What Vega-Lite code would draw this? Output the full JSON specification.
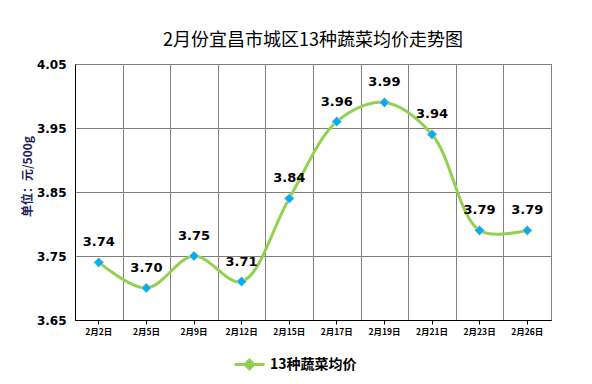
{
  "$schema": "https://vega.github.io/schema/vega-lite/v6.json",
  "width": 476,
  "height": 256,
  "autosize": "none",
  "padding": {"left": 75, "top": 64, "right": 41, "bottom": 64},
  "background": "white",
  "title": {
    "text": "2月份宜昌市城区13种蔬菜均价走势图",
    "font": "Noto Sans CJK SC",
    "fontSize": 18,
    "fontWeight": "normal",
    "color": "#000000",
    "anchor": "middle",
    "offset": 8
  },
  "data": {
    "values": [
      {"date": "2月2日", "price": 3.74, "series": "13种蔬菜均价"},
      {"date": "2月5日", "price": 3.70, "series": "13种蔬菜均价"},
      {"date": "2月9日", "price": 3.75, "series": "13种蔬菜均价"},
      {"date": "2月12日", "price": 3.71, "series": "13种蔬菜均价"},
      {"date": "2月15日", "price": 3.84, "series": "13种蔬菜均价"},
      {"date": "2月17日", "price": 3.96, "series": "13种蔬菜均价"},
      {"date": "2月19日", "price": 3.99, "series": "13种蔬菜均价"},
      {"date": "2月21日", "price": 3.94, "series": "13种蔬菜均价"},
      {"date": "2月23日", "price": 3.79, "series": "13种蔬菜均价"},
      {"date": "2月26日", "price": 3.79, "series": "13种蔬菜均价"}
    ]
  },
  "resolve": {"axis": {"x": "independent", "y": "independent"}},
  "layer": [
    {
      "mark": {"type": "line", "interpolate": "catmull-rom", "strokeWidth": 3},
      "encoding": {
        "x": {
          "field": "date", "type": "ordinal", "sort": null, "bandPosition": 0.5,
          "scale": {"type": "band", "paddingInner": 0, "paddingOuter": 0},
          "axis": {"orient": "bottom", "title": null, "grid": true, "gridColor": "#808080", "gridWidth": 1, "tickBand": "extent", "ticks": false, "labels": false, "domain": false}
        },
        "y": {
          "field": "price", "type": "quantitative",
          "scale": {"domain": [3.65, 4.05], "nice": false, "zero": false},
          "axis": {
            "orient": "left",
            "values": [3.65, 3.75, 3.85, 3.95, 4.05], "format": ".2f",
            "grid": true, "gridColor": "#808080", "gridWidth": 1,
            "ticks": false, "domain": true, "domainColor": "#000000",
            "labelFont": "DejaVu Sans", "labelFontSize": 12, "labelFontWeight": "bold", "labelColor": "#000000", "labelPadding": 9,
            "title": "单位：元/500g", "titleFont": "Noto Sans CJK SC", "titleFontSize": 12, "titleFontWeight": "bold", "titleColor": "#1F1F5A",
            "titleAngle": 270, "titleX": -48, "titleY": 112, "titleAlign": "center", "titleBaseline": "middle"
          }
        },
        "color": {
          "field": "series", "type": "nominal",
          "scale": {"range": ["#92D050"]},
          "legend": {
            "orient": "none", "legendX": 158, "legendY": 284, "title": null,
            "symbolType": "M-1,0H1M-0.3,0L0,-0.3L0.3,0L0,0.3Z",
            "symbolSize": 900, "symbolStrokeWidth": 3,
            "labelFont": "Noto Sans CJK SC", "labelFontSize": 14, "labelFontWeight": "bold", "labelColor": "#000000",
            "labelOffset": 4,
            "encode": {"symbols": {"update": {"fill": {"value": "#00B0F0"}}}}
          }
        }
      }
    },
    {
      "mark": {"type": "point", "shape": "diamond", "filled": true, "size": 100, "color": "#00B0F0", "stroke": "#F4C9A8", "strokeWidth": 0.8, "opacity": 1},
      "encoding": {
        "x": {
          "field": "date", "type": "ordinal", "sort": null, "bandPosition": 0.5,
          "scale": {"type": "band", "paddingInner": 0, "paddingOuter": 0},
          "axis": {"orient": "bottom", "title": null, "grid": false, "ticks": true, "tickSize": 4, "tickColor": "#000000", "domain": true, "domainColor": "#000000", "labelAngle": 0,
            "labelFont": "Noto Sans CJK SC", "labelFontSize": 8.5, "labelFontWeight": "bold", "labelColor": "#000000", "labelPadding": 3}
        },
        "y": {"field": "price", "type": "quantitative", "axis": null}
      }
    },
    {
      "mark": {"type": "text", "dy": -20, "font": "DejaVu Sans", "fontSize": 13, "fontWeight": "bold", "color": "#000000"},
      "encoding": {
        "x": {"field": "date", "type": "ordinal", "sort": null, "bandPosition": 0.5, "axis": null},
        "y": {"field": "price", "type": "quantitative", "axis": null},
        "text": {"field": "price", "type": "quantitative", "format": ".2f"}
      }
    }
  ],
  "config": {
    "view": {"stroke": "#000000", "strokeWidth": 1}
  }
}
